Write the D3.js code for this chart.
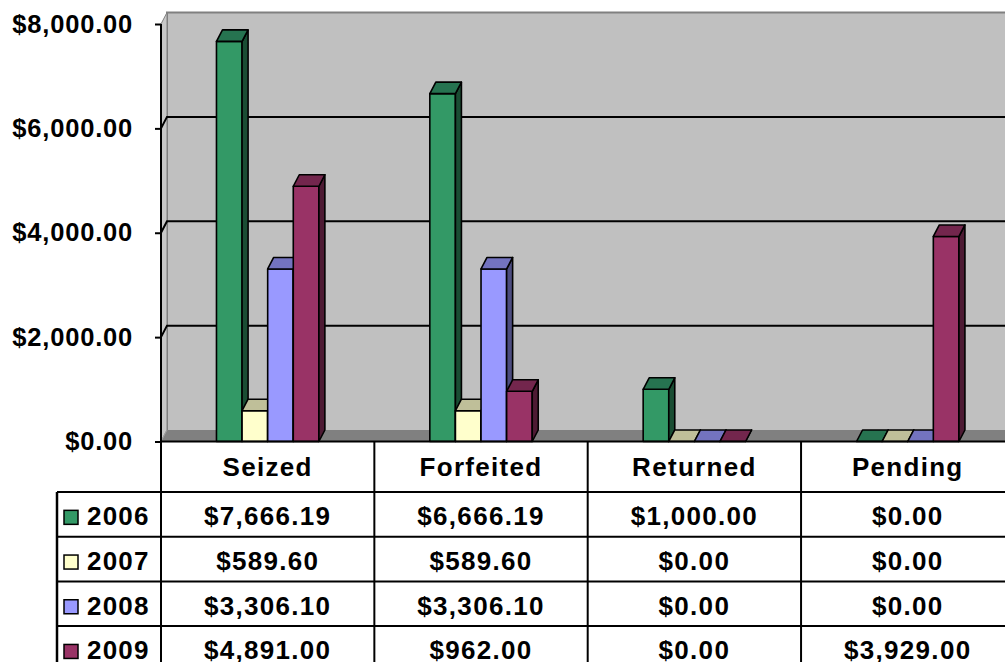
<!DOCTYPE html>
<html>
<head>
<meta charset="utf-8">
<script src="https://cdn.jsdelivr.net/npm/d3@7"></script>
<style>
  body { margin: 0; background: #fff; }
  text { font-family: "Liberation Sans", Arial, sans-serif; font-weight: bold; fill: #000; }
</style>
</head>
<body>
<div id="chart"></div>
<script>
// data
const categories = ["Seized", "Forfeited", "Returned", "Pending"];
const years = ["2006", "2007", "2008", "2009"];
const values2006 = [7666.19, 6666.19, 1000.0, 0];
const values2007 = [589.6, 589.6, 0, 0];
const values2008 = [3306.1, 3306.1, 0, 0];
const values2009 = [4891.0, 962.0, 0, 3929.0];
const tickValues = [0, 2000, 4000, 6000, 8000];

const seriesValues = [values2006, values2007, values2008, values2009];

// front / top / side shading like the excel 3d columns
const colors = {
  "2006": ["#339966", "#267350", "#1a4d33"],
  "2007": ["#FFFFCC", "#BFBF99", "#808066"],
  "2008": ["#9999FF", "#7373BF", "#4d4d80"],
  "2009": ["#993366", "#73264d", "#4d1a33"],
};

const width = 1005, height = 662;
const plotLeft = 161;
const catW = 213.35;
const plotRight = plotLeft + catW * categories.length;
const depthX = 6, depthY = -11.5;

const svg = d3.select("#chart").append("svg")
  .attr("width", width)
  .attr("height", height);

const y = d3.scaleLinear().domain([0, 8000]).range([441.5, 24]);
const x0 = d3.scaleBand().domain(categories).range([plotLeft, plotRight]);
const groupW = x0.bandwidth() * 0.48;
const x1 = d3.scaleBand().domain(years).range([0, groupW]);
const groupOffset = (x0.bandwidth() - groupW) / 2;

const y0 = y(0), yTop = y(8000);

// back wall
svg.append("rect")
  .attr("x", plotLeft + depthX).attr("y", yTop + depthY)
  .attr("width", plotRight - plotLeft).attr("height", y0 - yTop)
  .attr("fill", "#C0C0C0");
svg.append("path")
  .attr("d", `M${plotLeft + depthX},${y0 + depthY}V${yTop + depthY}H${plotRight + depthX}`)
  .attr("fill", "none").attr("stroke", "#808080").attr("stroke-width", 2);

// left side wall
svg.append("path")
  .attr("d", `M${plotLeft},${y0}L${plotLeft},${yTop}L${plotLeft + depthX},${yTop + depthY}L${plotLeft + depthX},${y0 + depthY}Z`)
  .attr("fill", "#C8C8C8").attr("stroke", "#808080").attr("stroke-width", 1);

// gridlines on back wall + side wall
tickValues.filter(t => t > 0 && t < 8000).forEach(t => {
  svg.append("path")
    .attr("d", `M${plotLeft},${y(t)}L${plotLeft + depthX},${y(t) + depthY}H${plotRight + depthX}`)
    .attr("fill", "none").attr("stroke", "#000").attr("stroke-width", 2);
});

// floor
svg.append("path")
  .attr("d", `M${plotLeft},${y0}L${plotLeft + depthX},${y0 + depthY}H${plotRight + depthX}L${plotRight},${y0}Z`)
  .attr("fill", "#808080");
svg.append("line")
  .attr("x1", plotLeft).attr("y1", y0)
  .attr("x2", plotLeft + depthX).attr("y2", y0 + depthY)
  .attr("stroke", "#A0A0A0").attr("stroke-width", 1);

// bars
const barData = [];
categories.forEach((c, ci) => {
  years.forEach((yr, si) => {
    barData.push({ cat: c, year: yr, value: seriesValues[si][ci] });
  });
});

const bars = svg.append("g").selectAll("g")
  .data(barData)
  .join("g");

bars.each(function (d) {
  const g = d3.select(this);
  const bx = x0(d.cat) + groupOffset + x1(d.year);
  const bw = x1.bandwidth();
  const yt = y(d.value);
  const c = colors[d.year];
  g.append("rect")
    .attr("x", bx).attr("y", yt)
    .attr("width", bw).attr("height", y0 - yt)
    .attr("fill", c[0]);
  g.append("path")
    .attr("d", `M${bx + bw},${yt}L${bx + bw + depthX},${yt + depthY}L${bx + bw + depthX},${y0 + depthY}L${bx + bw},${y0}Z`)
    .attr("fill", c[2]);
  g.append("path")
    .attr("d", `M${bx},${yt}H${bx + bw}L${bx + bw + depthX},${yt + depthY}H${bx + depthX}Z`)
    .attr("fill", c[1]);
  g.selectAll("rect,path")
    .attr("stroke", "#000").attr("stroke-width", 1.6).attr("stroke-linejoin", "round");
});

// y axis
const yAxis = svg.append("g")
  .attr("transform", `translate(${plotLeft},0)`)
  .call(d3.axisLeft(y).tickValues(tickValues).tickSize(6).tickPadding(22).tickFormat(d3.format("$,.2f")));
yAxis.select(".domain").remove();
yAxis.selectAll(".tick line").attr("stroke", "#000").attr("stroke-width", 2);
yAxis.selectAll(".tick text")
  .attr("font-size", 25.5)
  .attr("letter-spacing", "0.8px")
  .attr("font-family", "Liberation Sans, Arial, sans-serif")
  .attr("font-weight", "bold")
  .attr("fill", "#000");

// data table
const tableLeft = 57;
const headerBottom = 492;
const rowH = 44.7;
const fs = 26;
const table = svg.append("g");

const hLines = [y0, headerBottom];
years.forEach((yr, i) => hLines.push(headerBottom + rowH * (i + 1)));
hLines.forEach((ly, i) => {
  table.append("line")
    .attr("x1", i === 0 ? plotLeft : tableLeft).attr("x2", width)
    .attr("y1", ly).attr("y2", ly)
    .attr("stroke", "#000").attr("stroke-width", 2);
});
table.append("line")
  .attr("x1", plotLeft).attr("x2", plotLeft)
  .attr("y1", yTop).attr("y2", height)
  .attr("stroke", "#000").attr("stroke-width", 2);
table.append("line")
  .attr("x1", tableLeft).attr("x2", tableLeft)
  .attr("y1", headerBottom).attr("y2", height)
  .attr("stroke", "#000").attr("stroke-width", 2.5);
categories.forEach((c, i) => {
  if (i > 0) {
    table.append("line")
      .attr("x1", x0(c)).attr("x2", x0(c))
      .attr("y1", y0).attr("y2", height)
      .attr("stroke", "#000").attr("stroke-width", 2);
  }
  table.append("text")
    .attr("x", x0(c) + x0.bandwidth() / 2)
    .attr("y", (y0 + headerBottom) / 2 + fs * 0.37)
    .attr("text-anchor", "middle")
    .attr("font-size", fs)
    .attr("letter-spacing", "1.3px")
    .text(c);
});

const fmt = d3.format("$,.2f");
years.forEach((yr, si) => {
  const mid = headerBottom + rowH * si + rowH / 2;
  table.append("rect")
    .attr("x", 64).attr("y", mid - 4)
    .attr("width", 14).attr("height", 14)
    .attr("fill", colors[yr][0])
    .attr("stroke", "#000").attr("stroke-width", 1.5);
  table.append("text")
    .attr("x", 87).attr("y", mid + fs * 0.42)
    .attr("font-size", fs)
    .attr("letter-spacing", "1.2px")
    .text(yr);
  categories.forEach((c, ci) => {
    table.append("text")
      .attr("x", x0(c) + x0.bandwidth() / 2)
      .attr("y", mid + fs * 0.42)
      .attr("text-anchor", "middle")
      .attr("font-size", fs)
      .attr("letter-spacing", "1.3px")
      .text(fmt(seriesValues[si][ci]));
  });
});
</script>
</body>
</html>
